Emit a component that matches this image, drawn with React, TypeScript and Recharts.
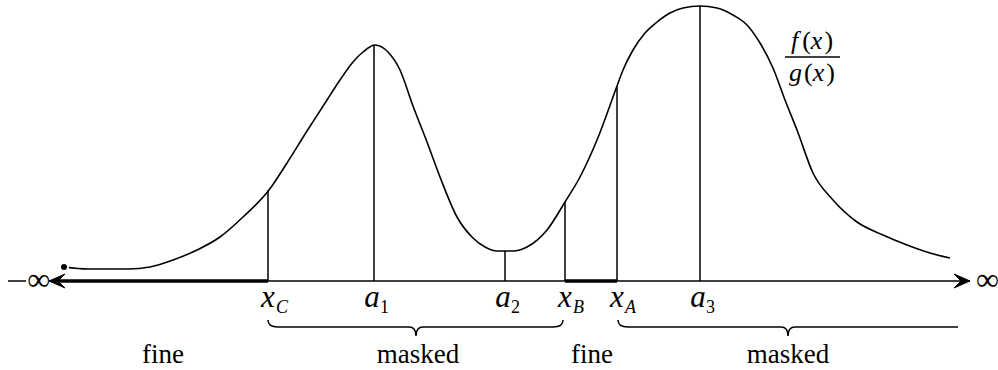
import {
	LineChart,
	Line,
	XAxis,
	YAxis,
	ReferenceLine,
	ReferenceDot,
	ReferenceArea,
} from "recharts";

// the ratio f(x)/g(x), sampled along the axis
const curveX = [
	1.6, 4.0, 8.0, 10.2, 12.5, 14.9, 17.2, 19.5, 22.1, 23.9, 25.9, 27.9, 29.2,
	30.5, 31.5, 32.7, 34.0, 35.2, 36.5, 37.9, 39.2, 40.9, 42.5, 43.7, 44.9, 46.5,
	47.9, 49.9, 51.7, 53.2, 54.9, 56.9, 57.5, 58.5, 59.7, 60.9, 62.2, 63.5, 65.2,
	66.9, 68.5, 69.9, 71.2, 72.5, 73.7, 74.9, 76.5, 78.5, 80.9, 83.5, 85.9, 88.2,
	90.2,
];
const curveY = [
	1.4, 1.2, 1.2, 1.4, 2.1, 3.1, 4.4, 6.4, 9.1, 11.8, 15.0, 18.1, 20.1, 21.9,
	22.9, 23.6, 22.9, 21.1, 17.5, 13.9, 10.4, 6.4, 4.3, 3.4, 3.0, 3.0, 3.4, 5.1,
	7.9, 10.4, 14.1, 19.5, 21.1, 23.1, 24.8, 25.9, 26.8, 27.3, 27.5, 27.3, 26.6,
	25.6, 23.8, 21.3, 18.1, 15.1, 10.8, 8.1, 5.9, 4.6, 3.6, 2.8, 2.3,
];

// marked points on the axis
const markX = [22.0, 32.6, 45.7, 51.7, 56.9, 65.2];
const markHeight = [9.1, 23.6, 3.0, 7.9, 19.5, 27.5];
const markName = ["x", "a", "a", "x", "x", "a"];
const markSub = ["C", "1", "2", "B", "A", "3"];

// bold stretches of the axis
const boldFrom = [0.6, 51.7];
const boldTo = [22.0, 56.9];

// braces under the axis
const braceFrom = [22.0, 57.0];
const braceTo = [51.5, 91.0];
const braceTip = [36.8, 74.0];
const braceHookRight = [true, false];

// region names
const regionX = [11.5, 37.0, 54.4, 74.0];
const regionText = ["fine", "masked", "fine", "masked"];

const axisStart = 0.1;
const axisEnd = 92.2;

const data = curveX.map((x, i) => ({ x, y: curveY[i] }));

const FONT = "'Liberation Serif', 'Times New Roman', serif";

const markLabel = (name: string, sub: string) => (props: any) => {
	const { cx, cy } = props;
	const isX = name === "x";
	const digit = /\d/.test(sub);
	return (
		<g fontFamily={FONT} fill="#000">
			<text
				x={isX ? cx : cx - 2}
				y={cy + 26}
				fontSize={31}
				fontStyle="italic"
				textAnchor="middle"
			>
				{name}
			</text>
			<text
				x={isX ? cx + 8 : cx + 6}
				y={cy + 32}
				fontSize={18}
				fontStyle={digit ? "normal" : "italic"}
			>
				{sub}
			</text>
		</g>
	);
};

const braceShape = (tipFrac: number, hookRight: boolean) => (props: any) => {
	const { x, y, width } = props;
	const x1 = x + width;
	const yl = y + 7;
	const yt = y + 16;
	const xm = x + width * tipFrac;
	const d = [
		`M${x},${y}`,
		`Q${x},${yl} ${x + 10},${yl}`,
		`L${xm - 7},${yl}`,
		`Q${xm},${yl} ${xm},${yt}`,
		`Q${xm},${yl} ${xm + 7},${yl}`,
		hookRight ? `L${x1 - 10},${yl} Q${x1},${yl} ${x1},${y}` : `L${x1},${yl}`,
	].join(" ");
	return <path d={d} fill="none" stroke="#000" strokeWidth={1.5} />;
};

const textShape = (label: string) => (props: any) => (
	<text
		x={props.cx}
		y={props.cy + 82}
		fontFamily={FONT}
		fontSize={27}
		textAnchor="middle"
		fill="#000"
	>
		{label}
	</text>
);

const leftArrow = (props: any) => {
	const { cx, cy } = props;
	return (
		<g>
			<path
				d={`M${cx},${cy} L${cx + 16},${cy - 7} L${cx + 9},${cy} L${cx + 16},${cy + 7} Z`}
				fill="#000"
				stroke="#000"
				strokeWidth={1}
			/>
			<line x1={cx - 41} x2={cx - 23} y1={cy} y2={cy} stroke="#000" strokeWidth={1.5} />
			<text
				x={cx + 1}
				y={cy + 9}
				fontFamily={FONT}
				fontSize={32}
				textAnchor="end"
				fill="#000"
			>
				∞
			</text>
		</g>
	);
};

const rightArrow = (props: any) => {
	const { cx, cy } = props;
	return (
		<g>
			<path
				d={`M${cx},${cy} L${cx - 16},${cy - 7} L${cx - 9},${cy} L${cx - 16},${cy + 7} Z`}
				fill="#000"
				stroke="#000"
				strokeWidth={1}
			/>
			<text
				x={cx + 6}
				y={cy + 9}
				fontFamily={FONT}
				fontSize={32}
				fill="#000"
			>
				∞
			</text>
		</g>
	);
};

const fraction = (props: any) => {
	const { cx, cy } = props;
	return (
		<g fontFamily={FONT} fontSize={26} fill="#000">
			<text x={cx} y={cy - 8} textAnchor="middle">
				<tspan fontStyle="italic">f</tspan>
				<tspan dx={4}>(</tspan>
				<tspan fontStyle="italic">x</tspan>
				<tspan dx={2}>)</tspan>
			</text>
			<line x1={cx - 27} x2={cx + 28} y1={cy} y2={cy} stroke="#000" strokeWidth={1.3} />
			<text x={cx} y={cy + 24} textAnchor="middle">
				<tspan fontStyle="italic">g</tspan>
				<tspan dx={2}>(</tspan>
				<tspan fontStyle="italic">x</tspan>
				<tspan dx={2}>)</tspan>
			</text>
		</g>
	);
};

export default function App() {
	return (
		<div style={{ position: "absolute", left: 0, top: 0, background: "#fff" }}>
			<LineChart
				width={998}
				height={370}
				data={data}
				margin={{ top: 0, right: 0, bottom: 0, left: 0 }}
			>
				<XAxis
					type="number"
					dataKey="x"
					domain={[-4.8, 95]}
					allowDataOverflow
					hide
				/>
				<YAxis type="number" domain={[-8.9, 28.1]} allowDataOverflow hide />

				<ReferenceLine
					segment={[
						{ x: axisStart, y: 0 },
						{ x: axisEnd, y: 0 },
					]}
					stroke="#000"
					strokeWidth={1.4}
				/>
				{boldFrom.map((f, i) => (
					<ReferenceLine
						key={`b${i}`}
						segment={[
							{ x: f, y: 0 },
							{ x: boldTo[i], y: 0 },
						]}
						stroke="#000"
						strokeWidth={3.5}
					/>
				))}
				{markX.map((mx, i) => (
					<ReferenceLine
						key={`m${i}`}
						segment={[
							{ x: mx, y: 0 },
							{ x: mx, y: markHeight[i] },
						]}
						stroke="#000"
						strokeWidth={1.5}
					/>
				))}
				{markX.map((mx, i) => (
					<ReferenceDot
						key={`l${i}`}
						x={mx}
						y={0}
						r={1}
						shape={markLabel(markName[i], markSub[i])}
					/>
				))}
				{braceFrom.map((f, i) => (
					<ReferenceArea
						key={`br${i}`}
						x1={f}
						x2={braceTo[i]}
						y1={-3.9}
						y2={-5.6}
						shape={braceShape(
							(braceTip[i] - f) / (braceTo[i] - f),
							braceHookRight[i],
						)}
					/>
				))}
				{regionX.map((rx, i) => (
					<ReferenceDot
						key={`r${i}`}
						x={rx}
						y={0}
						r={1}
						shape={textShape(regionText[i])}
					/>
				))}
				<ReferenceDot x={axisStart} y={0} r={1} shape={leftArrow} />
				<ReferenceDot x={axisEnd} y={0} r={1} shape={rightArrow} />
				<ReferenceDot x={76.4} y={22.4} r={1} shape={fraction} />

				<Line
					type="monotone"
					dataKey="y"
					stroke="#000"
					strokeWidth={1.6}
					dot={false}
					isAnimationActive={false}
				/>
			</LineChart>
		</div>
	);
}
